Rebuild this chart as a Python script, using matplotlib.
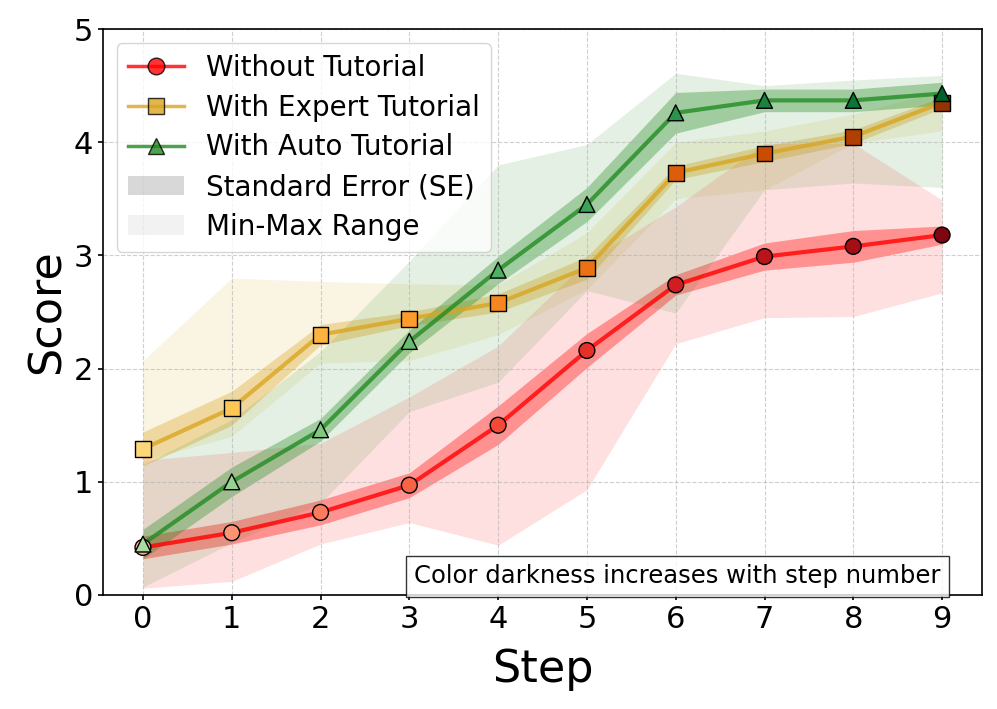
import numpy as np
import matplotlib.pyplot as plt
from matplotlib.lines import Line2D
from matplotlib.patches import Patch

steps = np.arange(10)

# Without Tutorial
red_mean = [0.42, 0.55, 0.73, 0.97, 1.50, 2.16, 2.74, 2.99, 3.08, 3.18]
red_se = [0.10, 0.10, 0.11, 0.11, 0.17, 0.15, 0.09, 0.12, 0.14, 0.08]
red_min = [0.06, 0.12, 0.45, 0.64, 0.44, 0.93, 2.22, 2.45, 2.46, 2.67]
red_max = [1.19, 1.26, 1.34, 1.75, 2.20, 2.95, 3.43, 3.99, 3.99, 3.49]

# With Expert Tutorial
exp_mean = [1.29, 1.65, 2.30, 2.44, 2.58, 2.89, 3.73, 3.90, 4.05, 4.35]
exp_se = [0.15, 0.15, 0.09, 0.06, 0.08, 0.10, 0.06, 0.07, 0.06, 0.05]
exp_min = [1.19, 1.40, 2.05, 2.07, 2.30, 2.70, 3.50, 3.58, 3.99, 4.10]
exp_max = [2.07, 2.80, 2.77, 2.75, 2.74, 3.20, 4.00, 4.10, 4.25, 4.45]

# With Auto Tutorial
auto_mean = [0.45, 1.00, 1.46, 2.24, 2.87, 3.45, 4.26, 4.37, 4.37, 4.43]
auto_se = [0.13, 0.13, 0.10, 0.10, 0.12, 0.15, 0.18, 0.10, 0.10, 0.10]
auto_min = [0.07, 0.46, 0.81, 1.62, 1.88, 2.69, 2.49, 3.58, 3.64, 3.60]
auto_max = [1.15, 1.55, 2.15, 2.95, 3.80, 3.98, 4.61, 4.50, 4.55, 4.59]

series = [
    ('Without Tutorial', 'red', 'o', 'Reds', (0.30, 0.95), red_mean, red_se, red_min, red_max),
    ('With Expert Tutorial', 'goldenrod', 's', 'YlOrBr', (0.30, 0.88), exp_mean, exp_se, exp_min, exp_max),
    ('With Auto Tutorial', 'forestgreen', '^', 'Greens', (0.35, 0.90), auto_mean, auto_se, auto_min, auto_max),
]

fig = plt.figure(figsize=(9.97, 7.09), dpi=100)
ax = fig.add_axes([0.1033, 0.1608, 0.8817, 0.7982])

handles = []
for name, col, mk, cmap, rng, mean, se, lo, hi in series:
    mean = np.array(mean)
    se = np.array(se)
    ax.fill_between(steps, lo, hi, color=col, alpha=0.12, lw=0)
    ax.fill_between(steps, mean - se, mean + se, color=col, alpha=0.35, lw=0)
    ax.plot(steps, mean, color=col, lw=3, alpha=0.8, zorder=3)
    shades = plt.get_cmap(cmap)(np.linspace(rng[0], rng[1], len(steps)))
    ax.scatter(steps, mean, c=shades, marker=mk, s=130, edgecolors='black',
               linewidths=1, zorder=4)
    handles.append(Line2D([0], [0], color=col, lw=2.5, alpha=0.8, marker=mk,
                          markersize=12, markerfacecolor=col,
                          markeredgecolor='black', label=name))

handles.append(Patch(facecolor='gray', alpha=0.3, label='Standard Error (SE)'))
handles.append(Patch(facecolor='gray', alpha=0.1, label='Min-Max Range'))

ax.set_ylim(0, 5)
ax.set_xticks(steps)
ax.tick_params(labelsize=22, width=1.2)
for s in ax.spines.values():
    s.set_linewidth(1.2)
ax.set_xlabel('Step', fontsize=32, labelpad=10)
ax.set_ylabel('Score', fontsize=32)
ax.grid(True, linestyle='--', alpha=0.6)
ax.legend(handles=handles, loc='upper left', fontsize=20, framealpha=0.8,
          labelspacing=0.42)

ax.text(0.953, 0.012, 'Color darkness increases with step number', transform=ax.transAxes,
        ha='right', va='bottom', fontsize=17.5,
        bbox=dict(boxstyle='square,pad=0.35', facecolor='white', edgecolor='black', alpha=0.8))

fig.savefig('out.png', dpi=100)
